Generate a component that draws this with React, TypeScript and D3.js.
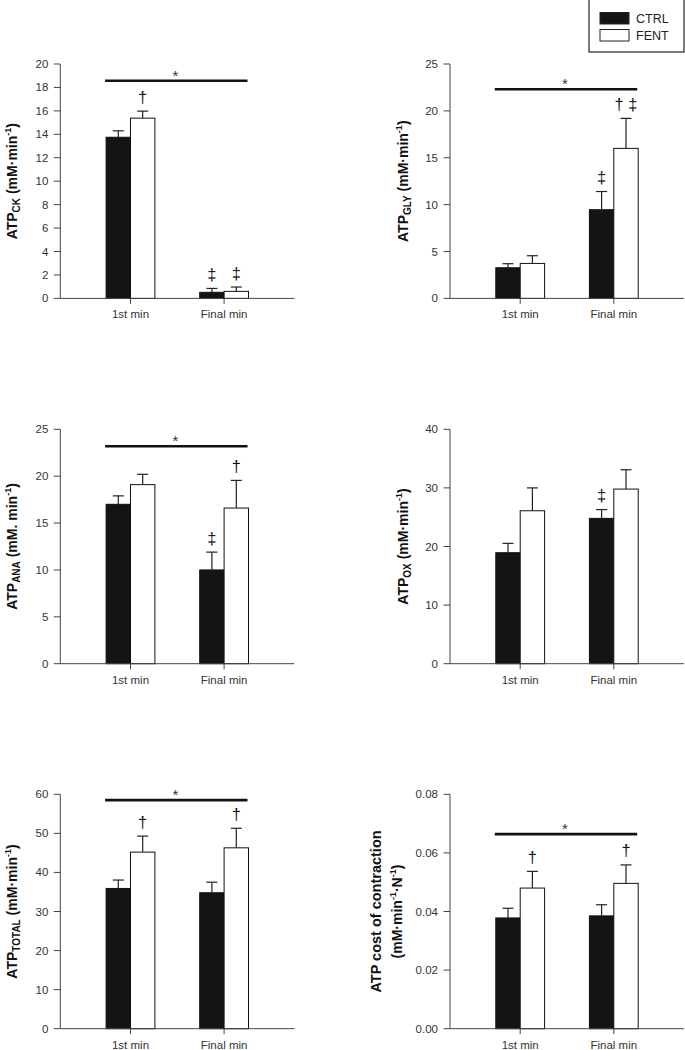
import React from "react";
import * as d3 from "d3";

const categories = ["1st min", "Final min"];
const groups = ["CTRL", "FENT"];

// Panel values (mean and SE)
const ckCtrl = [13.75, 0.52];
const ckCtrlErr = [0.55, 0.33];
const ckFent = [15.38, 0.6];
const ckFentErr = [0.6, 0.37];

const glyCtrl = [3.27, 9.46];
const glyCtrlErr = [0.43, 1.94];
const glyFent = [3.73, 16.0];
const glyFentErr = [0.82, 3.2];

const anaCtrl = [17.0, 10.0];
const anaCtrlErr = [0.9, 1.9];
const anaFent = [19.1, 16.6];
const anaFentErr = [1.1, 2.95];

const oxCtrl = [18.94, 24.8];
const oxCtrlErr = [1.6, 1.5];
const oxFent = [26.1, 29.8];
const oxFentErr = [3.9, 3.3];

const totCtrl = [35.9, 34.8];
const totCtrlErr = [2.15, 2.7];
const totFent = [45.2, 46.3];
const totFentErr = [4.1, 5.0];

const costCtrl = [0.0378, 0.0385];
const costCtrlErr = [0.0033, 0.0038];
const costFent = [0.048, 0.0496];
const costFentErr = [0.0057, 0.0063];

// Significance markers per bar
const ckMarks = [["", "‡"], ["†", "‡"]];
const glyMarks = [["", "‡"], ["", "† ‡"]];
const anaMarks = [["", "‡"], ["", "†"]];
const oxMarks = [["", "‡"], ["", ""]];
const totMarks = [["", ""], ["†", "†"]];
const costMarks = [["", ""], ["†", "†"]];

// y-axis maxima, tick steps and significance line levels
const yMax = [20, 25, 25, 40, 60, 0.08];
const yStep = [2, 5, 5, 10, 10, 0.02];
const sigLevel = [18.57, 22.3, 23.2, null, 58.5, 0.0664];

const FONT = "'Liberation Sans', Arial, Helvetica, sans-serif";
const PW = 234;
const PH = 234.4;

type PanelProps = {
  x0: number;
  y0: number;
  idx: number;
  ctrl: number[];
  ctrlErr: number[];
  fent: number[];
  fentErr: number[];
  marks: string[][];
  label: React.ReactNode;
  fmt?: (v: number) => string;
};

function Panel({ x0, y0, idx, ctrl, ctrlErr, fent, fentErr, marks, label, fmt }: PanelProps) {
  const max = yMax[idx];
  const step = yStep[idx];
  const y = d3.scaleLinear().domain([0, max]).range([PH, 0]);
  const x = d3.scalePoint<string>().domain(categories).range([0, PW]).padding(0.75);
  const bw = 24.4;
  const inner = d3.scaleBand<string>().domain(groups).range([-bw, bw]).padding(0);
  const ticks = d3.range(0, max + step / 2, step);
  const f = fmt || ((v: number) => String(v));
  const series = [
    { key: "CTRL", vals: ctrl, errs: ctrlErr, fill: "#141414", mk: marks[0] },
    { key: "FENT", vals: fent, errs: fentErr, fill: "#ffffff", mk: marks[1] },
  ];
  const sig = sigLevel[idx];
  return (
    <g transform={`translate(${x0},${y0})`}>
      {series.map((s) =>
        categories.map((c, i) => {
          const bx = (x(c) as number) + (inner(s.key) as number);
          const cx = bx + inner.bandwidth() / 2;
          const top = y(s.vals[i]);
          const et = y(s.vals[i] + s.errs[i]);
          return (
            <g key={s.key + c}>
              <rect
                x={bx}
                y={top}
                width={inner.bandwidth()}
                height={PH - top}
                fill={s.fill}
                stroke="#111"
                strokeWidth={1}
              />
              <line x1={cx} x2={cx} y1={top} y2={et} stroke="#222" strokeWidth={1.2} />
              <line x1={cx - 5.5} x2={cx + 5.5} y1={et} y2={et} stroke="#222" strokeWidth={1.2} />
              {s.mk[i] ? (
                <text
                  x={cx}
                  y={et - 8.5}
                  textAnchor="middle"
                  fontSize={16.5}
                  fontFamily={FONT}
                  fill="#111"
                >
                  {s.mk[i]}
                </text>
              ) : null}
            </g>
          );
        })
      )}
      {/* axes */}
      <line x1={0} x2={0} y1={0} y2={PH} stroke="#444" strokeWidth={1} />
      <line x1={0} x2={PW} y1={PH} y2={PH} stroke="#444" strokeWidth={1} />
      {ticks.map((t) => (
        <g key={t} transform={`translate(0,${y(t)})`}>
          <line x1={-6.5} x2={0} stroke="#444" strokeWidth={1} />
          <text x={-12} dy="0.35em" textAnchor="end" fontSize={11.5} fontFamily={FONT} fill="#333">
            {f(t)}
          </text>
        </g>
      ))}
      {categories.map((c) => (
        <g key={c} transform={`translate(${x(c)},${PH})`}>
          <line y1={0} y2={5.5} stroke="#444" strokeWidth={1} />
          <text y={20} textAnchor="middle" fontSize={11.5} fontFamily={FONT} fill="#333">
            {c}
          </text>
        </g>
      ))}
      {sig !== null && sig !== undefined ? (
        <g>
          <line
            x1={(x(categories[0]) as number) - bw - 1}
            x2={(x(categories[1]) as number) + bw - 1}
            y1={y(sig)}
            y2={y(sig)}
            stroke="#111"
            strokeWidth={2.6}
          />
          <text
            x={((x(categories[0]) as number) + (x(categories[1]) as number)) / 2 - 2}
            y={y(sig)}
            textAnchor="middle"
            fontSize={15}
            fontFamily={FONT}
            fill="#333"
          >
            *
          </text>
        </g>
      ) : null}
      {label}
    </g>
  );
}

function YLabel({ sub, unit, cx }: { sub: string; unit: string; cx: number }) {
  return (
    <text
      transform={`translate(${cx},${PH / 2}) rotate(-90)`}
      textAnchor="middle"
      fontSize={14}
      fontWeight="bold"
      fontFamily={FONT}
      fill="#111"
    >
      ATP
      <tspan fontSize={10} dy={3}>
        {sub}
      </tspan>
      <tspan dy={-3}>{` (${unit}`}</tspan>
      <tspan fontSize={9} dy={-6}>
        -1
      </tspan>
      <tspan dy={6}>)</tspan>
    </text>
  );
}

export default function App() {
  const L = 60.3;
  const R = 450;
  const rows = [64, 429.3, 794.3];
  return (
    <svg
      width={685}
      height={1050}
      style={{ position: "absolute", left: 0, top: 0, background: "#fff" }}
    >
      <rect width={685} height={1050} fill="#fff" />
      <Panel
        x0={L}
        y0={rows[0]}
        idx={0}
        ctrl={ckCtrl}
        ctrlErr={ckCtrlErr}
        fent={ckFent}
        fentErr={ckFentErr}
        marks={ckMarks}
        label={<YLabel sub="CK" unit="mM·min" cx={-43.5} />}
      />
      <Panel
        x0={R}
        y0={rows[0]}
        idx={1}
        ctrl={glyCtrl}
        ctrlErr={glyCtrlErr}
        fent={glyFent}
        fentErr={glyFentErr}
        marks={glyMarks}
        label={<YLabel sub="GLY" unit="mM·min" cx={-42.5} />}
      />
      <Panel
        x0={L}
        y0={rows[1]}
        idx={2}
        ctrl={anaCtrl}
        ctrlErr={anaCtrlErr}
        fent={anaFent}
        fentErr={anaFentErr}
        marks={anaMarks}
        label={<YLabel sub="ANA" unit="mM. min" cx={-43.5} />}
      />
      <Panel
        x0={R}
        y0={rows[1]}
        idx={3}
        ctrl={oxCtrl}
        ctrlErr={oxCtrlErr}
        fent={oxFent}
        fentErr={oxFentErr}
        marks={oxMarks}
        label={<YLabel sub="OX" unit="mM·min" cx={-42.5} />}
      />
      <Panel
        x0={L}
        y0={rows[2]}
        idx={4}
        ctrl={totCtrl}
        ctrlErr={totCtrlErr}
        fent={totFent}
        fentErr={totFentErr}
        marks={totMarks}
        label={<YLabel sub="TOTAL" unit="mM·min" cx={-43.5} />}
      />
      <Panel
        x0={R}
        y0={rows[2]}
        idx={5}
        ctrl={costCtrl}
        ctrlErr={costCtrlErr}
        fent={costFent}
        fentErr={costFentErr}
        marks={costMarks}
        fmt={d3.format(".2f")}
        label={
          <g>
            <text
              transform={`translate(-69,${PH / 2}) rotate(-90)`}
              textAnchor="middle"
              fontSize={14.5}
              fontWeight="bold"
              fontFamily={FONT}
              fill="#111"
            >
              ATP cost of contraction
            </text>
            <text
              transform={`translate(-48,${PH / 2}) rotate(-90)`}
              textAnchor="middle"
              fontSize={14}
              fontWeight="bold"
              fontFamily={FONT}
              fill="#111"
            >
              (mM·min
              <tspan fontSize={9} dy={-6}>
                -1
              </tspan>
              <tspan dy={6}>·N</tspan>
              <tspan fontSize={9} dy={-6}>
                -1
              </tspan>
              <tspan dy={6}>)</tspan>
            </text>
          </g>
        }
      />
      {/* legend */}
      <g>
        <rect x={589} y={-1} width={95} height={53} fill="#fff" stroke="#222" strokeWidth={1.2} />
        {groups.map((g, i) => (
          <g key={g} transform={`translate(600,${12.5 + i * 17})`}>
            <rect
              width={29}
              height={11.5}
              fill={i === 0 ? "#141414" : "#fff"}
              stroke="#222"
              strokeWidth={1}
            />
            <text x={36} y={10} fontSize={12.5} fontFamily={FONT} fill="#222">
              {g}
            </text>
          </g>
        ))}
      </g>
    </svg>
  );
}
